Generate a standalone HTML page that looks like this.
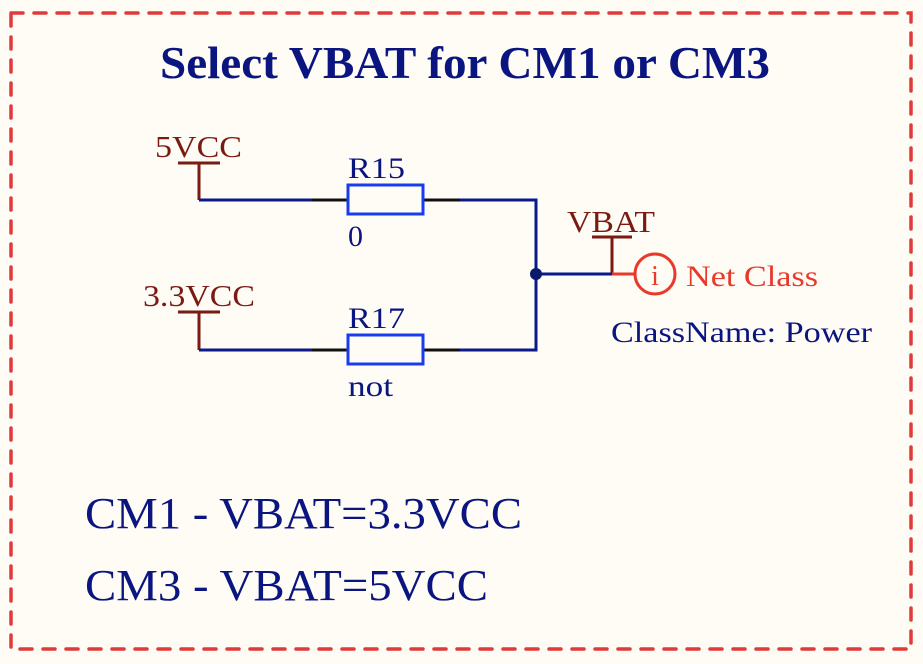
<!DOCTYPE html>
<html><head><style>
html,body{margin:0;padding:0;background:#fffbf5;}
svg{display:block;}
text{font-family:"Liberation Serif",serif;}
</style></head><body>
<svg width="923" height="664" viewBox="0 0 923 664" xmlns="http://www.w3.org/2000/svg">
<rect width="923" height="664" fill="#fffbf5"/>
<rect x="11" y="13" width="900" height="636" fill="none" stroke="#e03a3a" stroke-width="3.5" stroke-dasharray="12 11" stroke-linecap="round"/>
<text x="160" y="78" font-size="46" font-weight="bold" fill="#0a1580" textLength="610" lengthAdjust="spacingAndGlyphs">Select VBAT for CM1 or CM3</text>

<g stroke="#7a1a12" stroke-width="3" fill="none">
<line x1="178" y1="163" x2="220" y2="163"/><line x1="199" y1="163" x2="199" y2="200"/>
<line x1="178" y1="312" x2="220" y2="312"/><line x1="199" y1="312" x2="199" y2="350"/>
<line x1="592" y1="237" x2="632" y2="237"/><line x1="612" y1="237" x2="612" y2="274"/>
</g>
<text x="155" y="157" font-size="31" fill="#7a1a12" textLength="87" lengthAdjust="spacingAndGlyphs">5VCC</text>
<text x="143" y="306" font-size="31" fill="#7a1a12" textLength="112" lengthAdjust="spacingAndGlyphs">3.3VCC</text>
<text x="567" y="232" font-size="31" fill="#7a1a12" textLength="88" lengthAdjust="spacingAndGlyphs">VBAT</text>

<g stroke="#0a1a8a" stroke-width="3" fill="none">
<polyline points="199,200 312,200"/>
<polyline points="199,350 312,350"/>
<polyline points="460,200 536,200 536,350 460,350"/>
<line x1="536" y1="274" x2="612" y2="274"/>
</g>
<circle cx="536" cy="274" r="6" fill="#0a1a6a"/>
<g stroke="#111" stroke-width="3">
<line x1="312" y1="200" x2="348" y2="200"/><line x1="423" y1="200" x2="460" y2="200"/>
<line x1="312" y1="350" x2="348" y2="350"/><line x1="423" y1="350" x2="460" y2="350"/>
</g>
<rect x="348" y="185" width="75" height="29" fill="none" stroke="#1a3cf0" stroke-width="3"/>
<rect x="348" y="335" width="75" height="29" fill="none" stroke="#1a3cf0" stroke-width="3"/>
<text x="348" y="178" font-size="30" fill="#0a1580" textLength="57" lengthAdjust="spacingAndGlyphs">R15</text>
<text x="348" y="246" font-size="30" fill="#0a1580">0</text>
<text x="348" y="328" font-size="30" fill="#0a1580" textLength="57" lengthAdjust="spacingAndGlyphs">R17</text>
<text x="348" y="396" font-size="30" fill="#0a1580" textLength="45" lengthAdjust="spacingAndGlyphs">not</text>

<line x1="612" y1="274" x2="634" y2="274" stroke="#e83a2a" stroke-width="3"/>
<circle cx="655" cy="274" r="20" fill="none" stroke="#e83a2a" stroke-width="3"/>
<text x="655" y="285" font-size="28" fill="#e83a2a" text-anchor="middle">i</text>
<text x="686" y="286" font-size="30" fill="#e83a2a" textLength="132" lengthAdjust="spacingAndGlyphs">Net Class</text>
<text x="611" y="342" font-size="30" fill="#0a1580" textLength="261" lengthAdjust="spacingAndGlyphs">ClassName: Power</text>

<text x="85" y="528" font-size="44" fill="#0a1580" textLength="437" lengthAdjust="spacingAndGlyphs">CM1 - VBAT=3.3VCC</text>
<text x="85" y="600" font-size="44" fill="#0a1580" textLength="403" lengthAdjust="spacingAndGlyphs">CM3 - VBAT=5VCC</text>
</svg>
</body></html>
